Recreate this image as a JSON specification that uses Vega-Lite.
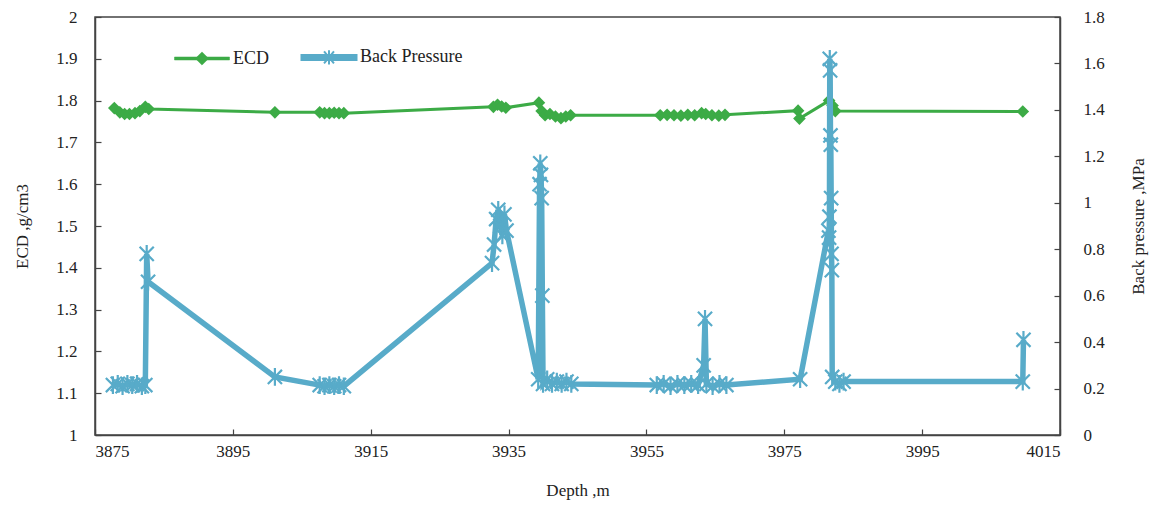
{
  "$schema": "https://vega.github.io/schema/vega-lite/v6.json",
  "autosize": "none",
  "width": 965,
  "height": 418,
  "padding": {"left": 95, "top": 17, "right": 96, "bottom": 71},
  "background": "white",
  "config": {
    "font": "Liberation Serif",
    "view": {"stroke": "#444444", "strokeWidth": 1.5, "fill": null},
    "axis": {
      "grid": false,
      "ticks": true,
      "zindex": 1,
      "domainColor": "#444444",
      "domainWidth": 1.5,
      "tickColor": "#444444",
      "tickWidth": 1.2,
      "labelFont": "Liberation Serif",
      "labelFontSize": 17,
      "labelColor": "#222222",
      "titleFont": "Liberation Serif",
      "titleFontSize": 17,
      "titleFontWeight": "normal",
      "titleColor": "#222222"
    }
  },
  "datasets": {
    "ecd": [
      {"depth": 3877.8, "ecd": 1.782},
      {"depth": 3878.6, "ecd": 1.772},
      {"depth": 3879.3, "ecd": 1.768},
      {"depth": 3880.0, "ecd": 1.768},
      {"depth": 3880.8, "ecd": 1.770},
      {"depth": 3881.5, "ecd": 1.775},
      {"depth": 3882.3, "ecd": 1.785},
      {"depth": 3882.8, "ecd": 1.780},
      {"depth": 3901.1, "ecd": 1.772},
      {"depth": 3907.6, "ecd": 1.772},
      {"depth": 3908.3, "ecd": 1.770},
      {"depth": 3909.0, "ecd": 1.770},
      {"depth": 3909.7, "ecd": 1.771},
      {"depth": 3910.4, "ecd": 1.770},
      {"depth": 3911.1, "ecd": 1.770},
      {"depth": 3932.8, "ecd": 1.785},
      {"depth": 3933.4, "ecd": 1.790},
      {"depth": 3934.0, "ecd": 1.786},
      {"depth": 3934.6, "ecd": 1.783},
      {"depth": 3939.4, "ecd": 1.795},
      {"depth": 3939.8, "ecd": 1.775},
      {"depth": 3940.3, "ecd": 1.765},
      {"depth": 3941.0, "ecd": 1.768},
      {"depth": 3941.8, "ecd": 1.762},
      {"depth": 3942.6, "ecd": 1.758},
      {"depth": 3943.3, "ecd": 1.762},
      {"depth": 3944.0, "ecd": 1.765},
      {"depth": 3957.0, "ecd": 1.765},
      {"depth": 3958.0, "ecd": 1.766},
      {"depth": 3959.0, "ecd": 1.765},
      {"depth": 3960.0, "ecd": 1.764},
      {"depth": 3961.0, "ecd": 1.766},
      {"depth": 3962.0, "ecd": 1.765},
      {"depth": 3963.0, "ecd": 1.770},
      {"depth": 3963.6, "ecd": 1.768},
      {"depth": 3964.5, "ecd": 1.765},
      {"depth": 3965.5, "ecd": 1.764},
      {"depth": 3966.4, "ecd": 1.766},
      {"depth": 3977.0, "ecd": 1.776},
      {"depth": 3977.2, "ecd": 1.757},
      {"depth": 3981.5, "ecd": 1.800},
      {"depth": 3982.0, "ecd": 1.788},
      {"depth": 3982.4, "ecd": 1.775},
      {"depth": 4009.6, "ecd": 1.774}
    ],
    "bp": [
      {"depth": 3877.6, "bp": 0.215},
      {"depth": 3878.3, "bp": 0.22},
      {"depth": 3879.0, "bp": 0.21},
      {"depth": 3879.7, "bp": 0.22},
      {"depth": 3880.4, "bp": 0.215},
      {"depth": 3881.1, "bp": 0.22},
      {"depth": 3881.8, "bp": 0.21},
      {"depth": 3882.3, "bp": 0.215},
      {"depth": 3882.5, "bp": 0.78},
      {"depth": 3882.7, "bp": 0.66},
      {"depth": 3901.1, "bp": 0.25},
      {"depth": 3907.6, "bp": 0.215},
      {"depth": 3908.3, "bp": 0.21},
      {"depth": 3909.0, "bp": 0.215},
      {"depth": 3909.7, "bp": 0.21},
      {"depth": 3910.4, "bp": 0.215},
      {"depth": 3911.1, "bp": 0.21},
      {"depth": 3932.6, "bp": 0.74},
      {"depth": 3932.9, "bp": 0.82},
      {"depth": 3933.2, "bp": 0.93},
      {"depth": 3933.5, "bp": 0.97},
      {"depth": 3933.8, "bp": 0.90},
      {"depth": 3934.1, "bp": 0.86},
      {"depth": 3934.4, "bp": 0.95},
      {"depth": 3934.7, "bp": 0.88},
      {"depth": 3939.3, "bp": 0.24},
      {"depth": 3939.5, "bp": 1.08},
      {"depth": 3939.6, "bp": 1.17},
      {"depth": 3939.7, "bp": 1.12},
      {"depth": 3939.8, "bp": 1.02},
      {"depth": 3939.9, "bp": 0.60},
      {"depth": 3940.0, "bp": 0.22},
      {"depth": 3940.6, "bp": 0.24},
      {"depth": 3941.3, "bp": 0.22},
      {"depth": 3942.0, "bp": 0.23},
      {"depth": 3942.7, "bp": 0.22},
      {"depth": 3943.4, "bp": 0.23},
      {"depth": 3944.1, "bp": 0.22},
      {"depth": 3956.5, "bp": 0.215},
      {"depth": 3957.5, "bp": 0.22},
      {"depth": 3958.5, "bp": 0.21},
      {"depth": 3959.5, "bp": 0.22},
      {"depth": 3960.5, "bp": 0.215},
      {"depth": 3961.5, "bp": 0.22},
      {"depth": 3962.5, "bp": 0.215},
      {"depth": 3963.3, "bp": 0.30},
      {"depth": 3963.5, "bp": 0.50},
      {"depth": 3963.7, "bp": 0.22},
      {"depth": 3964.6, "bp": 0.21},
      {"depth": 3965.6, "bp": 0.22},
      {"depth": 3966.6, "bp": 0.215},
      {"depth": 3977.3, "bp": 0.24},
      {"depth": 3981.4, "bp": 0.88},
      {"depth": 3981.5, "bp": 0.85},
      {"depth": 3981.55, "bp": 0.94},
      {"depth": 3981.6, "bp": 1.62},
      {"depth": 3981.65, "bp": 1.57},
      {"depth": 3981.7, "bp": 1.29},
      {"depth": 3981.75, "bp": 1.25},
      {"depth": 3981.8, "bp": 1.02},
      {"depth": 3981.85, "bp": 0.78},
      {"depth": 3981.9, "bp": 0.71},
      {"depth": 3981.95, "bp": 0.25},
      {"depth": 3982.4, "bp": 0.23},
      {"depth": 3983.0, "bp": 0.22},
      {"depth": 3983.6, "bp": 0.23},
      {"depth": 4009.6, "bp": 0.23},
      {"depth": 4009.7, "bp": 0.41}
    ]
  },
  "layer": [
    {
      "data": {"name": "ecd"},
      "encoding": {
        "x": {
          "field": "depth", "type": "quantitative",
          "scale": {"domain": [3875, 4015], "nice": false, "zero": false},
          "axis": {
            "title": "Depth ,m",
            "values": [3875, 3895, 3915, 3935, 3955, 3975, 3995, 4015],
            "format": "d",
            "ticks": true,
            "tickSize": -6,
            "labelPadding": 14,
            "labelFont": "Liberation Serif",
            "zindex": 1,
            "titleY": 55,
            "titleBaseline": "middle"
          }
        },
        "y": {
          "field": "ecd", "type": "quantitative",
          "scale": {"domain": [1, 2], "nice": false, "zero": false},
          "axis": {
            "title": "ECD  ,g/cm3",
            "values": [1, 1.1, 1.2, 1.3, 1.4, 1.5, 1.6, 1.7, 1.8, 1.9, 2],
            "format": ".1~f",
            "ticks": true,
            "tickSize": -6,
            "labelPadding": 24,
            "labelFont": "Liberation Serif",
            "zindex": 1,
            "titleX": -73,
            "titleY": 209,
            "titleAngle": -90,
            "titleBaseline": "middle"
          }
        },
        "color": {
          "datum": "ECD",
          "scale": {"domain": ["ECD", "Back Pressure"], "range": ["#3cab46", "#58abc9"]},
          "legend": {
            "title": null,
            "orient": "none",
            "legendX": 78,
            "legendY": 31,
            "direction": "horizontal",
            "labelFont": "Liberation Serif",
            "labelFontSize": 18,
            "labelColor": "#222222",
            "symbolOffset": 20,
            "labelOffset": 22,
            "columnPadding": 28,
            "encode": {
              "symbols": {
                "update": {
                  "shape": {"signal": "datum.value == 'ECD' ? 'M-1,-0.055H1V0.055H-1Z M0,-0.24L0.24,0L0,0.24L-0.24,0Z' : 'M-1,-0.09H1V0.09H-1Z M-0.18,-0.22L0.18,0.22M-0.18,0.22L0.18,-0.22M0,-0.26V0.26'"},
                  "size": {"value": 3025},
                  "strokeWidth": {"signal": "datum.value == 'ECD' ? 0.5 : 2"},
                  "fill": {"signal": "datum.value == 'ECD' ? '#3cab46' : '#58abc9'"},
                  "stroke": {"signal": "datum.value == 'ECD' ? '#3cab46' : '#58abc9'"},
                  "opacity": {"value": 1}
                }
              }
            }
          }
        }
      },
      "layer": [
        {"mark": {"type": "line", "strokeWidth": 3}},
        {"mark": {"type": "point", "shape": "diamond", "filled": true, "size": 160, "opacity": 1}}
      ]
    },
    {
      "data": {"name": "bp"},
      "encoding": {
        "x": {"field": "depth", "type": "quantitative"},
        "y": {
          "field": "bp", "type": "quantitative",
          "scale": {"domain": [0, 1.8], "nice": false},
          "axis": {
            "orient": "right",
            "title": "Back pressure ,MPa",
            "values": [0, 0.2, 0.4, 0.6, 0.8, 1, 1.2, 1.4, 1.6, 1.8],
            "format": ".1~f",
            "ticks": true,
            "tickSize": -6,
            "labelPadding": 29,
            "labelFont": "Liberation Serif",
            "zindex": 1,
            "titleX": 78,
            "titleY": 209,
            "titleAngle": -90,
            "titleBaseline": "middle"
          }
        },
        "color": {"datum": "Back Pressure"}
      },
      "layer": [
        {"mark": {"type": "line", "strokeWidth": 5.5}},
        {"mark": {"type": "point", "shape": "M-1,-1L1,1M-1,1L1,-1M0,-1.25L0,1.25", "filled": false, "strokeWidth": 2.2, "size": 200, "opacity": 1}}
      ]
    }
  ],
  "resolve": {"scale": {"y": "independent"}}
}
